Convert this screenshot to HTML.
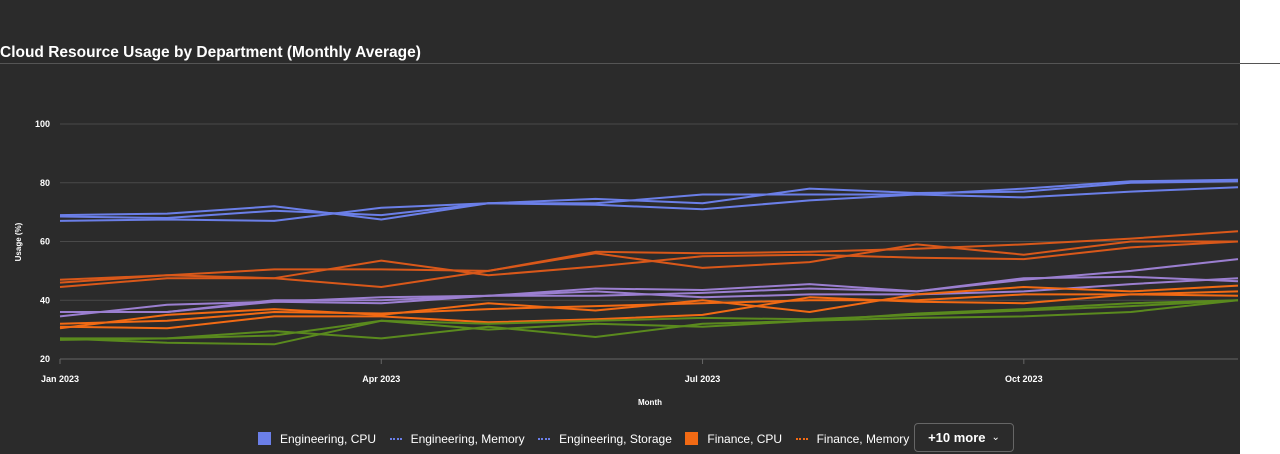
<!DOCTYPE html>
<html><head><meta charset="utf-8"><style>
html,body{margin:0;padding:0;}
body{width:1280px;height:454px;background:#fff;overflow:hidden;font-family:"Liberation Sans",sans-serif;position:relative;}
#panel{position:absolute;left:0;top:0;width:1240px;height:454px;background:#2b2b2b;}
#title{position:absolute;left:0;top:44px;color:#fff;font-weight:bold;font-size:15.5px;}
#rule{position:absolute;left:0;top:63px;width:1280px;height:1px;background:#555;}
#legend{position:absolute;left:258px;top:423px;height:31px;display:flex;align-items:center;color:#fff;font-size:12px;white-space:nowrap;}
.li{display:flex;align-items:center;margin-right:13.5px;}
.sq{width:13px;height:13px;margin-right:9px;}
.ds{width:12px;height:0;border-top:2px dotted;margin-right:9px;}
#more{position:absolute;left:914px;top:423px;width:100px;height:29px;border:1px solid #666;border-radius:4px;color:#fff;font-weight:bold;font-size:13px;display:flex;align-items:center;justify-content:center;box-sizing:border-box;background:#2b2b2b;}
</style></head><body>
<div id="panel"></div>
<div id="title">Cloud Resource Usage by Department (Monthly Average)</div>
<div id="rule"></div>
<svg id="chart" width="1280" height="420" style="position:absolute;left:0;top:0"></svg>
<div id="legend">
 <div class="li"><div class="sq" style="background:#6b7fe8"></div>Engineering, CPU</div>
 <div class="li"><div class="ds" style="border-color:#6b7fe8"></div>Engineering, Memory</div>
 <div class="li"><div class="ds" style="border-color:#6b7fe8"></div>Engineering, Storage</div>
 <div class="li"><div class="sq" style="background:#f26a14"></div>Finance, CPU</div>
 <div class="li"><div class="ds" style="border-color:#f26a14"></div>Finance, Memory</div>
</div>
<div id="more">+10 more <span style="font-weight:normal;font-size:10px;margin-left:6px">&#8964;</span></div>
<script>
const months=["Jan 2023","Feb 2023","Mar 2023","Apr 2023","May 2023","Jun 2023","Jul 2023","Aug 2023","Sep 2023","Oct 2023","Nov 2023","Dec 2023"];
const xTickLabels=["Jan 2023","Apr 2023","Jul 2023","Oct 2023"];
const yTicks=[20,40,60,80,100];
const seriesNames=["Engineering CPU","Engineering Memory","Engineering Storage","Finance CPU","Finance Memory","Finance Storage","Marketing CPU","Marketing Memory","Marketing Storage","Sales CPU","Sales Memory","Sales Storage","Ops CPU","Ops Memory","Ops Storage"];
const seriesColors=["#6b7fe8","#6b7fe8","#6b7fe8","#d9581a","#d9581a","#d9581a","#9b7fd0","#9b7fd0","#9b7fd0","#f26a14","#f26a14","#f26a14","#5a8a1e","#5a8a1e","#5a8a1e"];
const s0=[69,69.5,72,67.5,73,73,76,76,76,78,80.5,81];
const s1=[67,67.5,67,71.5,73,72.5,71,74,76,75,77,78.5];
const s2=[68.5,68,70.5,69,73,74.5,73,78,76.5,77,80,80.5];
const s3=[47,48.5,50.5,50.5,50,56.5,56,56.5,57.5,59,61,63.5];
const s4=[44.5,47.5,47.5,53.5,48.5,51.5,55,55.5,54.5,54,58,60];
const s5=[46,48.5,47.5,44.5,50,56,51,53,59,55.5,60,60];
const s6=[36,36,39.5,41,41.5,44,43.5,45.5,43,47,50,54];
const s7=[34.5,38.5,39.5,39,41.5,41.5,42.5,44,43,47.5,48,46.5];
const s8=[36,36,40,40,41.5,43,41,42,42,43,45.5,47.5];
const s9=[30.5,35,37,35,39,36.5,40,36,42,44.5,43,45];
const s10=[31,30.5,34.5,34.5,32.5,33.5,35,41,39.5,39,42,43];
const s11=[32,33,36,35.5,37,38,39,40,40,42,42,41.5];
const s12=[26.5,27,29.5,27,31,27.5,32,33,35.5,37,39,40];
const s13=[27,25.5,25,33,30,32,31,33,34,34.5,36,40];
const s14=[27,27,28,33,32,33,34,33.5,35,36.5,38,40];
const seriesValues=[s0,s1,s2,s3,s4,s5,s6,s7,s8,s9,s10,s11,s12,s13,s14];

const NS="http://www.w3.org/2000/svg";
const svg=document.getElementById('chart');
const X0=60,X1=1238,Y0=359,Y1=124,YMIN=20,YMAX=100;
function xs(i){return X0+(X1-X0)*i/(months.length-1);}
function ys(v){return Y0-(v-YMIN)/(YMAX-YMIN)*(Y0-Y1);}
function mk(t,a){const e=document.createElementNS(NS,t);for(const k in a)e.setAttribute(k,a[k]);svg.appendChild(e);return e;}
yTicks.forEach(v=>{
 const l=mk('line',{x1:X0,x2:X1,y1:ys(v),y2:ys(v),stroke:v===20?'#666':'#4a4a4a','stroke-width':1});
 
 
 const t=mk('text',{x:X0-10,y:ys(v)+3,'text-anchor':'end',fill:'#fff','font-size':9,'font-weight':'bold'});
 t.textContent=v;
 
 
});
xTickLabels.forEach(lbl=>{
 const i=months.indexOf(lbl);
 const tk=mk('line',{x1:xs(i),x2:xs(i),y1:Y0,y2:Y0+5,stroke:'#666'});
 
 
 const t=mk('text',{x:xs(i),y:Y0+23,'text-anchor':'middle',fill:'#fff','font-size':9,'font-weight':'bold'});
 t.textContent=lbl;
 
 
});
const yt=mk('text',{x:0,y:0,transform:'translate(21,242) rotate(-90)','text-anchor':'middle',fill:'#fff','font-size':8,'font-weight':'bold'});
yt.textContent='Usage (%)';


const xt=mk('text',{x:650,y:405,'text-anchor':'middle',fill:'#fff','font-size':8,'font-weight':'bold'});
xt.textContent='Month';


seriesValues.forEach((vals,si)=>{
 const d=vals.map((v,i)=>(i?'L':'M')+xs(i).toFixed(1)+' '+ys(v).toFixed(1)).join(' ');
 const p=mk('path',{d:d,fill:'none',stroke:seriesColors[si],'stroke-width':2,'stroke-linejoin':'round'});
 
 
});
</script>
</body></html>
